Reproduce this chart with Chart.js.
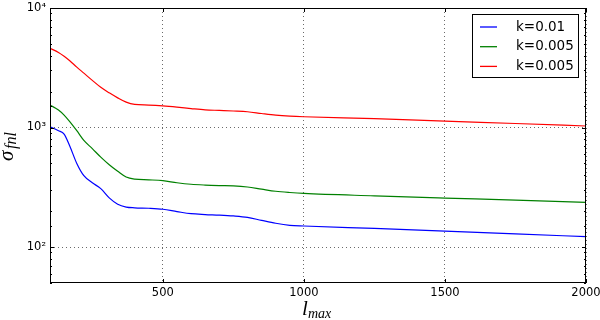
<!DOCTYPE html>
<html>
<head>
<meta charset="utf-8">
<script src="https://cdn.jsdelivr.net/npm/chart.js@4"></script>
<style>
html, body { margin: 0; padding: 0; background: #fff; }
#wrap { width: 600px; height: 320px; }
</style>
</head>
<body>
<div id="wrap"><canvas id="chart" width="600" height="320"></canvas></div>
<script>
// l_max sample points
const lmax = [100, 130, 150, 170, 195, 220, 250, 280, 310, 340, 370, 400, 450, 500, 550, 600, 650, 700, 750, 800, 850, 900, 950, 1000, 1250, 1500, 1750, 2000];

// sigma_fnl for each curve
const sigmaBlue  = [1015, 940, 880, 700, 500, 395, 345, 308, 258, 228, 216, 213, 211, 207, 198, 190, 187, 185, 182, 177, 167, 158, 152, 150, 143, 136, 129, 122];
const sigmaGreen = [1542, 1400, 1270, 1120, 940, 780, 665, 565, 488, 430, 385, 370, 365, 359, 345, 335, 330, 327, 325, 318, 305, 293, 286, 281, 268, 257, 247, 236];
const sigmaRed   = [4600, 4250, 3950, 3620, 3200, 2850, 2480, 2170, 1950, 1770, 1630, 1560, 1540, 1515, 1480, 1440, 1405, 1390, 1375, 1355, 1310, 1270, 1245, 1230, 1185, 1130, 1080, 1030];

const seriesLabels = ['k=0.01', 'k=0.005', 'k=0.005'];
const seriesColors = ['#0000ff', '#008000', '#ff0000'];

const xTicks = [500, 1000, 1500, 2000];
const yTickLabels = { 100: '10\u00b2', 1000: '10\u00b3', 10000: '10\u2074' };

const tickFont = { family: 'DejaVu Sans', size: 11.5 };

function isPow10(v) {
    const l = Math.log10(v);
    return Math.abs(l - Math.round(l)) < 1e-9;
}

// frame, inward ticks, legend box and math-style axis titles
const decorations = {
    id: 'decorations',
    afterDraw(chart) {
        const ctx = chart.ctx;
        const a = chart.chartArea;
        const xs = chart.scales.x, ys = chart.scales.y;
        ctx.save();
        ctx.strokeStyle = '#000';
        ctx.lineWidth = 1;
        ctx.strokeRect(a.left + 0.5, a.top + 0.5, a.right - a.left - 1, a.bottom - a.top - 1);

        ctx.beginPath();
        ys.ticks.forEach(t => {
            const y = Math.round(ys.getPixelForValue(t.value)) + 0.5;
            const len = isPow10(t.value) ? 4 : 2;
            ctx.moveTo(a.left, y); ctx.lineTo(a.left + len, y);
            ctx.moveTo(a.right, y); ctx.lineTo(a.right - len, y);
        });
        xTicks.forEach(v => {
            const x = Math.round(xs.getPixelForValue(v)) + 0.5;
            ctx.moveTo(x, a.bottom); ctx.lineTo(x, a.bottom - 4);
            ctx.moveTo(x, a.top); ctx.lineTo(x, a.top + 4);
        });
        ctx.stroke();

        // legend
        const bx = 472, by = 14, bw = 106, bh = 63;
        ctx.fillStyle = '#fff';
        ctx.fillRect(bx, by, bw, bh);
        ctx.strokeStyle = '#000';
        ctx.strokeRect(bx + 0.5, by + 0.5, bw, bh);
        ctx.font = '13.5px "DejaVu Sans"';
        ctx.textBaseline = 'middle';
        ctx.textAlign = 'left';
        seriesLabels.forEach((label, i) => {
            const y = by + 13 + i * 19.7;
            ctx.lineWidth = 1.3;
            ctx.strokeStyle = seriesColors[i];
            ctx.beginPath();
            ctx.moveTo(480, y);
            ctx.lineTo(497, y);
            ctx.stroke();
            ctx.fillStyle = '#000';
            ctx.fillText(label, 516, y);
        });

        // x title: l_max
        ctx.fillStyle = '#000';
        ctx.textBaseline = 'alphabetic';
        ctx.font = 'italic 21px "Liberation Serif"';
        ctx.fillText('l', 302, 315);
        ctx.font = 'italic 14px "Liberation Serif"';
        ctx.fillText('max', 308, 318);

        // y title: sigma_fnl
        ctx.translate(13, 161);
        ctx.rotate(-Math.PI / 2);
        ctx.font = 'italic 21px "Liberation Serif"';
        ctx.fillText('\u03c3', 0, 0);
        ctx.font = 'italic 16px "Liberation Serif"';
        ctx.fillText('fnl', 12, 3);
        ctx.restore();
    }
};

function makeSeries(values) {
    return lmax.map((l, i) => ({ x: l, y: values[i] }));
}

const datasets = [sigmaBlue, sigmaGreen, sigmaRed].map((vals, i) => ({
    label: seriesLabels[i],
    data: makeSeries(vals),
    borderColor: seriesColors[i],
    borderWidth: 1.2,
    pointRadius: 0,
    fill: false,
    cubicInterpolationMode: 'monotone'
}));

new Chart(document.getElementById('chart'), {
    type: 'line',
    data: { datasets: datasets },
    options: {
        responsive: false,
        animation: false,
        layout: { padding: { left: 0, right: 14, top: 8, bottom: 0 } },
        plugins: {
            legend: { display: false },
            tooltip: { enabled: false }
        },
        scales: {
            x: {
                type: 'linear',
                min: 100,
                max: 2000,
                afterBuildTicks: s => { s.ticks = xTicks.map(v => ({ value: v })); },
                afterFit: s => { s.height = 37; s.paddingLeft = 0; s.paddingRight = 0; },
                ticks: {
                    color: '#000',
                    font: tickFont,
                    padding: 3,
                    maxRotation: 0,
                    autoSkip: false,
                    callback: v => String(v)
                },
                grid: { color: '#444', lineWidth: 0.8, drawTicks: false },
                border: { display: false, dash: [1, 3] }
            },
            y: {
                type: 'logarithmic',
                min: 50,
                max: 10000,
                afterFit: s => { s.width = 50; s.paddingTop = 0; s.paddingBottom = 0; },
                ticks: {
                    color: '#000',
                    font: tickFont,
                    padding: 4,
                    autoSkip: false,
                    callback: v => yTickLabels[v] || ''
                },
                grid: {
                    color: c => (c.tick && isPow10(c.tick.value) ? '#444' : 'rgba(0,0,0,0)'),
                    lineWidth: 0.8,
                    drawTicks: false
                },
                border: { display: false, dash: [1, 3] }
            }
        }
    },
    plugins: [decorations]
});
</script>
</body>
</html>
